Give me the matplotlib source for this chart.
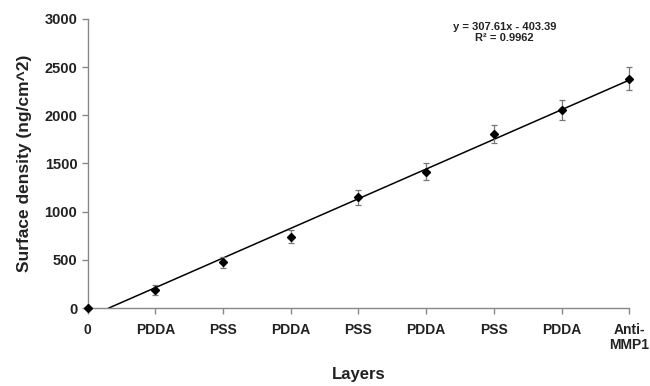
import numpy as np
import matplotlib.pyplot as plt

plt.rcParams['font.family'] = ['Liberation Sans', 'DejaVu Sans']

# layers deposited (position 1 is the bare surface)
layers = ["0", "PDDA", "PSS", "PDDA", "PSS", "PDDA", "PSS", "PDDA", "Anti-\nMMP1"]
density = [0, 187, 474, 740, 1149, 1415, 1803, 2055, 2380]
errors = [0, 50, 55, 70, 75, 90, 95, 105, 120]

slope = 307.61
intercept = -403.39

x = np.arange(1, len(layers) + 1)

fig = plt.figure(figsize=(6.5, 3.86), dpi=100)
ax = fig.add_axes([0.135, 0.202, 0.833, 0.749])

# trendline from where it crosses zero to the last layer
x0 = -intercept / slope
xl = np.array([x0, x[-1]])
ax.plot(xl, slope * xl + intercept, color="black", lw=1.1, zorder=2)

ax.errorbar(x, density, yerr=errors, fmt="D", color="black", ms=4.5,
            ecolor="#777777", elinewidth=0.9, capsize=2.5, capthick=0.9,
            zorder=3, clip_on=False)

ax.set_xlim(1, 9)
ax.set_ylim(0, 3000)
ax.set_yticks(range(0, 3001, 500))
ax.set_xticks(x)
ax.set_xticklabels(layers, fontweight="bold", fontsize=10, color="#222222",
                   linespacing=1.05)
for lab in ax.get_yticklabels():
    lab.set_fontweight("bold")
    lab.set_fontsize(10.5)
    lab.set_color("#222222")

for s in ["top", "right"]:
    ax.spines[s].set_visible(False)
for s in ["left", "bottom"]:
    ax.spines[s].set_color("#888888")
    ax.spines[s].set_linewidth(1.0)
ax.tick_params(axis="both", colors="#888888", length=4, width=1.0,
               labelcolor="#222222")
ax.tick_params(axis="x", pad=7)

ax.set_ylabel("Surface density (ng/cm^2)", fontweight="bold", fontsize=12.5,
              color="#222222", labelpad=9)
ax.set_xlabel("Layers", fontweight="bold", fontsize=12, color="#222222",
              labelpad=11)

ax.text(0.77, 0.99, "y = 307.61x - 403.39\nR\u00b2 = 0.9962",
        transform=ax.transAxes, ha="center", va="top", fontsize=8,
        fontweight="bold", color="#222222", linespacing=1.1)

fig.savefig("out.png", dpi=100)
